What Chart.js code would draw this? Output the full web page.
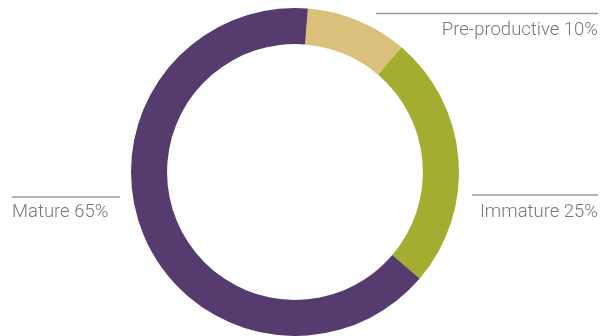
<!DOCTYPE html>
<html><head><meta charset="utf-8">
<script src="https://cdn.jsdelivr.net/npm/chart.js"></script>
<style>html,body{margin:0;padding:0;background:#fff}#wrap{width:606px;height:336px;position:relative}</style>
</head><body><div id="wrap"><canvas id="c" width="606" height="336"></canvas></div>
<script>
const categories = ["Pre-productive", "Immature", "Mature"];
const values = [10, 25, 65];
const colors = ["#dbc07c", "#a3ae30", "#563c6e"];

const labelPlugin = {
  id: 'labels',
  afterDraw(chart) {
    const ctx = chart.ctx;
    ctx.save();
    ctx.font = '300 18.5px Roboto';
    ctx.fillStyle = '#777777';
    ctx.strokeStyle = '#999999';
    ctx.lineWidth = 1.5;
    const items = [
      {i:0, x1:376, x2:598, ly:13.5, tx:598, ty:35, align:'right'},
      {i:1, x1:472, x2:598, ly:195, tx:598, ty:217, align:'right'},
      {i:2, x1:12, x2:120, ly:197, tx:12, ty:217, align:'left'}
    ];
    items.forEach(it => {
      ctx.beginPath(); ctx.moveTo(it.x1, it.ly); ctx.lineTo(it.x2, it.ly); ctx.stroke();
      ctx.textAlign = it.align; ctx.textBaseline = 'alphabetic';
      ctx.fillText(categories[it.i] + ' ' + values[it.i] + '%', it.tx, it.ty);
    });
    ctx.restore();
  }
};

new Chart(document.getElementById('c'), {
  type: 'doughnut',
  data: { labels: categories, datasets: [{ data: values, backgroundColor: colors, borderWidth: 0 }] },
  options: {
    responsive: false, animation: false, rotation: 4.5, cutout: '78%',
    layout: { padding: { top: 8, bottom: 0, left: 0, right: 16 } },
    plugins: { legend: { display: false }, tooltip: { enabled: false } }
  },
  plugins: [labelPlugin]
});
</script></body></html>
